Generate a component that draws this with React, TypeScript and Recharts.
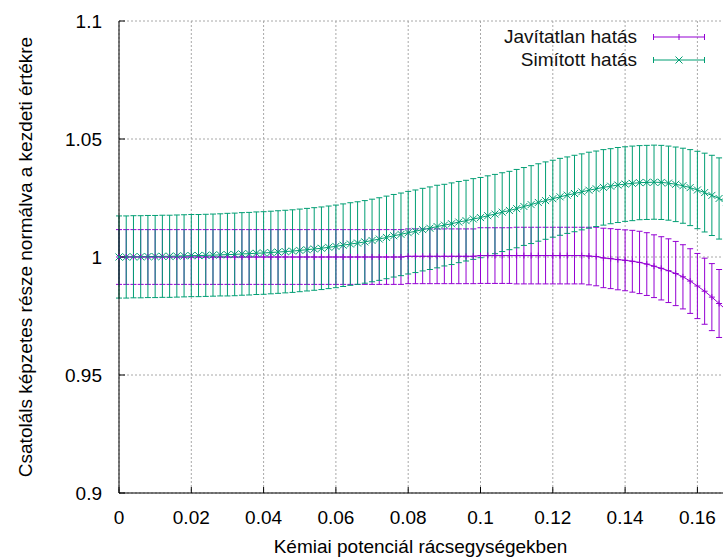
import { CartesianGrid, ErrorBar, Legend, Line, LineChart, XAxis, YAxis } from "recharts";

const xValues = [
  0, 0.002, 0.004, 0.006, 0.008, 0.01, 0.012, 0.014, 0.016, 0.018,
  0.02, 0.022, 0.024, 0.026, 0.028, 0.03, 0.032, 0.034, 0.036, 0.038,
  0.04, 0.042, 0.044, 0.046, 0.048, 0.05, 0.052, 0.054, 0.056, 0.058,
  0.06, 0.062, 0.064, 0.066, 0.068, 0.07, 0.072, 0.074, 0.076, 0.078,
  0.08, 0.082, 0.084, 0.086, 0.088, 0.09, 0.092, 0.094, 0.096, 0.098,
  0.1, 0.102, 0.104, 0.106, 0.108, 0.11, 0.112, 0.114, 0.116, 0.118,
  0.12, 0.122, 0.124, 0.126, 0.128, 0.13, 0.132, 0.134, 0.136, 0.138,
  0.14, 0.142, 0.144, 0.146, 0.148, 0.15, 0.152, 0.154, 0.156, 0.158,
  0.16, 0.162, 0.164, 0.166, 0.168,
];

// Javítatlan hatás
const rawValues = [
  1, 1, 1, 1, 1, 1, 1, 1, 1, 1,
  1, 1, 1, 1, 1, 1, 1, 1, 1, 1,
  1, 1, 1, 1, 1, 1, 1, 1, 1, 1,
  1, 1, 1, 1, 1, 1, 1, 1, 1, 1,
  1.0003, 1.0003, 1.0003, 1.0003, 1.0003, 1.0003, 1.0003, 1.0003, 1.0003, 1.0003,
  1.0006, 1.0006, 1.0006, 1.0006, 1.0006, 1.0006, 1.0006, 1.0006, 1.0006, 1.0006,
  1.0006, 1.0006, 1.0006, 1.0006, 1.0006, 1.0004, 1.0002, 0.9996, 0.9993, 0.9989,
  0.9986, 0.9982, 0.9977, 0.997, 0.9961, 0.9952, 0.9942, 0.993, 0.9916, 0.9898,
  0.9877, 0.9855, 0.983, 0.9803, 0.9775,
];
const rawErr = [
  0.0116, 0.0116, 0.0116, 0.0116, 0.0116, 0.0116, 0.0116, 0.0116, 0.0116, 0.0116,
  0.0116, 0.0116, 0.0116, 0.0116, 0.0116, 0.0116, 0.0116, 0.0116, 0.0116, 0.0116,
  0.0116, 0.0116, 0.0116, 0.0116, 0.0116, 0.0116, 0.0116, 0.0116, 0.0116, 0.0116,
  0.0116, 0.0116, 0.0116, 0.0116, 0.0116, 0.0116, 0.0116, 0.0116, 0.0116, 0.0116,
  0.0116, 0.0116, 0.0116, 0.0116, 0.0116, 0.0116, 0.0116, 0.0116, 0.0116, 0.0116,
  0.0118, 0.0118, 0.0118, 0.0118, 0.0118, 0.012, 0.012, 0.012, 0.012, 0.012,
  0.012, 0.012, 0.012, 0.012, 0.012, 0.0122, 0.0124, 0.0126, 0.0127, 0.0128,
  0.0129, 0.0131, 0.0132, 0.0133, 0.0133, 0.0134, 0.0135, 0.0136, 0.0136, 0.0137,
  0.0138, 0.014, 0.0142, 0.0144, 0.0146,
];

// Simított hatás
const smoothValues = [
  1, 1, 1.0001, 1.0001, 1.0002, 1.0002, 1.0003, 1.0003, 1.0004, 1.0005,
  1.0006, 1.0006, 1.0007, 1.0008, 1.0009, 1.001, 1.0011, 1.0013, 1.0014, 1.0016,
  1.0017, 1.0019, 1.0021, 1.0023, 1.0025, 1.0028, 1.0031, 1.0034, 1.0037, 1.0041,
  1.0045, 1.005, 1.0055, 1.0059, 1.0064, 1.007, 1.0076, 1.0083, 1.009, 1.0096,
  1.0103, 1.0109, 1.0116, 1.0122, 1.0129, 1.0135, 1.0141, 1.0148, 1.0154, 1.0161,
  1.0167, 1.0175, 1.0182, 1.019, 1.0197, 1.0205, 1.0214, 1.0222, 1.0231, 1.0239,
  1.0247, 1.0255, 1.0262, 1.0269, 1.0276, 1.0283, 1.0289, 1.0295, 1.03, 1.0305,
  1.0309, 1.0312, 1.0315, 1.0316, 1.0317, 1.0316, 1.0313, 1.0308, 1.0302, 1.0294,
  1.0284, 1.0273, 1.0261, 1.0248, 1.0234,
];
const smoothErr = [
  0.0174, 0.0174, 0.0174, 0.0174, 0.0174, 0.0174, 0.0174, 0.0174, 0.0174, 0.0174,
  0.0174, 0.0174, 0.0174, 0.0174, 0.0174, 0.0175, 0.0175, 0.0175, 0.0175, 0.0175,
  0.0175, 0.0175, 0.0175, 0.0175, 0.0175, 0.0175, 0.0175, 0.0175, 0.0175, 0.0175,
  0.0175, 0.0175, 0.0175, 0.0175, 0.0175, 0.0175, 0.0175, 0.0175, 0.0175, 0.0175,
  0.0175, 0.0175, 0.0175, 0.0175, 0.0175, 0.0173, 0.0173, 0.0172, 0.0171, 0.0171,
  0.017, 0.0169, 0.0168, 0.0167, 0.0166, 0.0166, 0.0165, 0.0165, 0.0164, 0.0164,
  0.0163, 0.0163, 0.0162, 0.0162, 0.0161, 0.0161, 0.016, 0.016, 0.0159, 0.0159,
  0.0158, 0.0158, 0.0157, 0.0157, 0.0157, 0.0157, 0.0157, 0.0158, 0.0159, 0.0161,
  0.0164, 0.0167, 0.017, 0.0172, 0.0174,
];

const xTicks = [0, 0.02, 0.04, 0.06, 0.08, 0.1, 0.12, 0.14, 0.16];
const yTicks = [0.9, 0.95, 1, 1.05, 1.1];

const seriesNames = ["Javítatlan hatás", "Simított hatás"];
const PURPLE = "#9400d3";
const GREEN = "#009e73";
const FONT = '"Liberation Sans", Arial, sans-serif';

const data = xValues.map((x, i) => ({
  x,
  raw: rawValues[i],
  rawErr: rawErr[i],
  smooth: smoothValues[i],
  smoothErr: smoothErr[i],
}));

const PlusDot = (props: any) => {
  const { cx, cy, index } = props;
  if (cx == null || cy == null) return <g key={index} />;
  return (
    <path
      key={index}
      d={`M${cx - 3},${cy}h6M${cx},${cy - 3}v6`}
      stroke={PURPLE}
      strokeWidth={1}
      fill="none"
    />
  );
};

const CrossDot = (props: any) => {
  const { cx, cy, index } = props;
  if (cx == null || cy == null) return <g key={index} />;
  return (
    <path
      key={index}
      d={`M${cx - 3.5},${cy - 3.5}l7,7M${cx - 3.5},${cy + 3.5}l7,-7`}
      stroke={GREEN}
      strokeWidth={1}
      fill="none"
    />
  );
};

const renderLegend = () => (
  <div style={{ fontFamily: FONT, fontSize: 19, color: "#111" }}>
    {seriesNames.map((name, i) => {
      const color = i === 0 ? PURPLE : GREEN;
      return (
        <div
          key={name}
          style={{
            display: "flex",
            justifyContent: "flex-end",
            alignItems: "center",
            height: 23,
            lineHeight: "23px",
          }}
        >
          <span style={{ marginRight: 15 }}>{name}</span>
          <svg width={54} height={12} style={{ display: "block" }}>
            <path
              d="M1,6H53M1.5,3V9M52.5,3V9"
              stroke={color}
              strokeWidth={1}
              fill="none"
            />
            {i === 0 ? (
              <path d="M27,3V9" stroke={color} strokeWidth={1} />
            ) : (
              <path d="M23.5,2.5l7,7M23.5,9.5l7,-7" stroke={color} strokeWidth={1} />
            )}
          </svg>
        </div>
      );
    })}
  </div>
);

export default function App() {
  return (
    <div
      style={{
        width: 723,
        height: 558,
        overflow: "hidden",
        position: "relative",
        background: "#fff",
      }}
    >
      <style>{"html,body{margin:0;padding:0;overflow:hidden}"}</style>
      <LineChart
        width={852}
        height={558}
        data={data}
        margin={{ top: 21, right: 10, left: 0, bottom: 0 }}
        style={{ fontFamily: FONT }}
      >
        <CartesianGrid stroke="#a8a8a8" strokeDasharray="2 2" />
        <XAxis
          type="number"
          dataKey="x"
          domain={[0, 0.2]}
          ticks={xTicks}
          height={65}
          tickSize={-6}
          tickMargin={24}
          tick={{ fontSize: 19, fill: "#000" }}
          tickLine={{ stroke: "#000" }}
          axisLine={{ stroke: "#000" }}
          label={{
            value: "Kémiai potenciál rácsegységekben",
            position: "insideBottom",
            offset: 5,
            dx: -60,
            fontSize: 19,
            fill: "#000",
          }}
        />
        <XAxis
          xAxisId="top"
          orientation="top"
          type="number"
          dataKey="x"
          domain={[0, 0.2]}
          ticks={xTicks}
          height={0}
          tickSize={-6}
          tickFormatter={() => ""}
          tickLine={{ stroke: "#000" }}
          axisLine={{ stroke: "#000" }}
        />
        <YAxis
          type="number"
          domain={[0.9, 1.1]}
          ticks={yTicks}
          width={119}
          tickSize={-6}
          tickMargin={23}
          tick={{ fontSize: 19, fill: "#000" }}
          tickLine={{ stroke: "#000" }}
          axisLine={{ stroke: "#000" }}
          label={{
            value: "Csatoláls képzetes része normálva a kezdeti értékre",
            angle: -90,
            position: "insideLeft",
            offset: 25,
            fontSize: 19,
            fill: "#000",
            style: { textAnchor: "middle" },
          }}
        />
        <Legend
          verticalAlign="middle"
          align="center"
          content={renderLegend}
          wrapperStyle={{ left: 0, top: 25, width: 706 }}
        />
        <Line
          name={seriesNames[0]}
          dataKey="raw"
          stroke={PURPLE}
          strokeWidth={1}
          dot={PlusDot}
          activeDot={false}
          isAnimationActive={false}
        >
          <ErrorBar dataKey="rawErr" width={3} stroke={PURPLE} strokeWidth={1} direction="y" />
        </Line>
        <Line
          name={seriesNames[1]}
          dataKey="smooth"
          stroke={GREEN}
          strokeWidth={1}
          dot={CrossDot}
          activeDot={false}
          isAnimationActive={false}
        >
          <ErrorBar dataKey="smoothErr" width={3} stroke={GREEN} strokeWidth={1} direction="y" />
        </Line>
      </LineChart>
    </div>
  );
}
